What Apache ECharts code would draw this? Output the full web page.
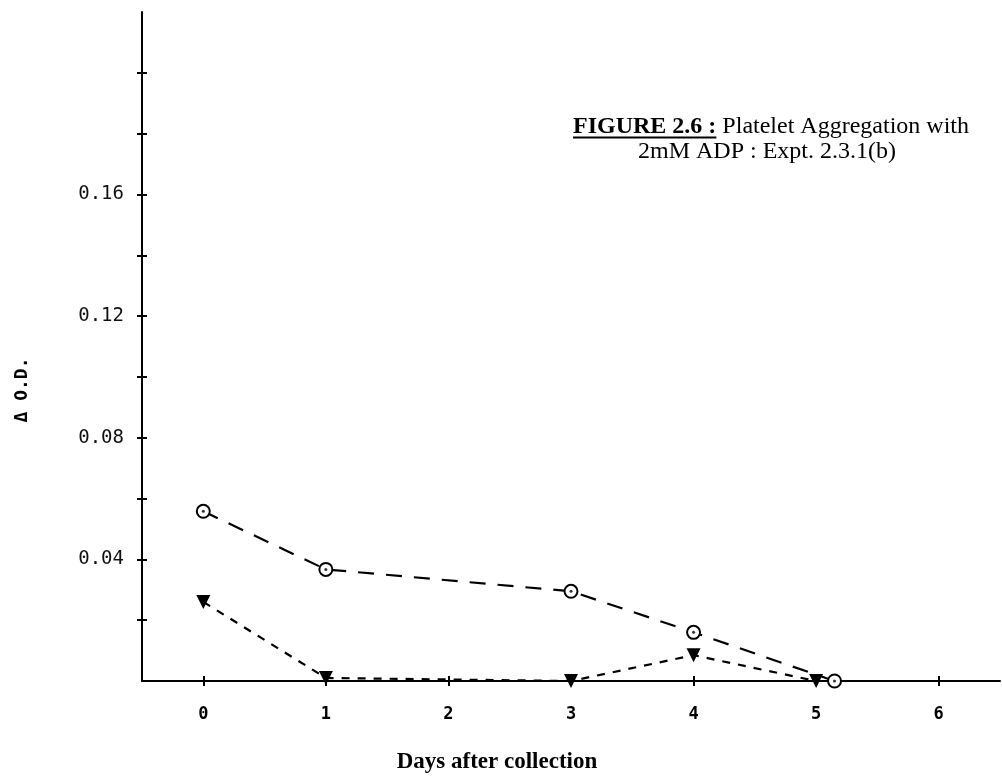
<!DOCTYPE html>
<html>
<head>
<meta charset="utf-8">
<script src="https://cdn.jsdelivr.net/npm/echarts@6/dist/echarts.min.js"></script>
<style>html,body{margin:0;padding:0;background:#fff}#c{width:1002px;height:780px}</style>
</head>
<body>
<div id="c"></div>
<script>
// ---- data ----
const circleDays = [0, 1, 3, 4, 5.15];
const circleOD   = [0.0558, 0.0367, 0.0295, 0.016, 0];
const triDays    = [0, 1, 3, 4, 5];
const triOD      = [0.026, 0.001, 0, 0.0085, 0];
const xTickValues = [0, 1, 2, 3, 4, 5, 6];
const xTickLabels = ['0', '1', '2', '3', '4', '5', '6'];
const yTickValues = [0.02, 0.04, 0.06, 0.08, 0.10, 0.12, 0.14, 0.16, 0.18, 0.20];
const yLabelValues = [0.04, 0.08, 0.12, 0.16];
const yTickLabels = ['0.04', '0.08', '0.12', '0.16'];
const titleBold = 'FIGURE 2.6 :';
const titleRest = ' Platelet Aggregation with';
const titleLine2 = '2mM ADP : Expt. 2.3.1(b)';
const xName = 'Days after collection';
const yName = '\u0394 O.D.';

const circlePts = circleDays.map((d, i) => [d, circleOD[i]]);
const triPts = triDays.map((d, i) => [d, triOD[i]]);

const chart = echarts.init(document.getElementById('c'), null, {renderer: 'canvas'});
const mono = 'DejaVu Sans Mono';
const serif = 'Liberation Serif';
const titleSize = 24;

function labelFor(v) {
  const idx = yLabelValues.findIndex(x => Math.abs(x - v) < 1e-6);
  return idx >= 0 ? yTickLabels[idx] : '';
}

// measure for underline
const cv = document.createElement('canvas').getContext('2d');
cv.font = 'bold ' + titleSize + 'px "' + serif + '"';
const wBold = cv.measureText(titleBold).width;
cv.font = titleSize + 'px "' + serif + '"';
const wRest = cv.measureText(titleRest).width;
const titleCx = 771;
const line1Left = titleCx - (wBold + wRest) / 2;

const baseAxisX = {type: 'value', min: -0.5, max: 6.5, splitLine: {show: false}};
const baseAxisY = {type: 'value', min: 0, max: 0.22, splitLine: {show: false}};
const axLine = {show: true, onZero: false, lineStyle: {color: '#000', width: 2}};

chart.setOption({
  backgroundColor: '#fff',
  animation: false,
  grid: {left: 142, top: 12, width: 858, height: 669},
  xAxis: [
    Object.assign({}, baseAxisX, {
      position: 'bottom',
      axisLine: axLine,
      axisTick: {show: true, length: 5, customValues: xTickValues, lineStyle: {color: '#000', width: 2}},
      axisLabel: {show: true, customValues: xTickValues, margin: 25,
        formatter: v => { const i = xTickValues.indexOf(Math.round(v)); return i >= 0 ? xTickLabels[i] : ''; },
        color: '#000', fontFamily: mono, fontWeight: 'bold', fontSize: 17}
    }),
    Object.assign({}, baseAxisX, {
      position: 'bottom', offset: -5,
      axisLine: {show: false, onZero: false},
      axisTick: {show: true, length: 10, customValues: xTickValues, lineStyle: {color: '#000', width: 2}},
      axisLabel: {show: false}
    })
  ],
  yAxis: [
    Object.assign({}, baseAxisY, {
      position: 'left',
      axisLine: axLine,
      axisTick: {show: true, length: 5, customValues: yTickValues, lineStyle: {color: '#000', width: 2}},
      axisLabel: {show: true, customValues: yLabelValues, margin: 18, formatter: labelFor,
        color: '#111', fontFamily: mono, fontSize: 19}
    }),
    Object.assign({}, baseAxisY, {
      position: 'left', offset: -5,
      axisLine: {show: false, onZero: false},
      axisTick: {show: true, length: 10, customValues: yTickValues, lineStyle: {color: '#000', width: 2}},
      axisLabel: {show: false}
    })
  ],
  series: [
    {
      type: 'line', data: circlePts, xAxisIndex: 0, yAxisIndex: 0,
      symbol: 'emptyCircle', symbolSize: 13, clip: false,
      lineStyle: {color: '#000', width: 2.2, type: [16, 12]},
      itemStyle: {color: '#000', borderColor: '#000', borderWidth: 2.5},
      z: 3
    },
    {
      type: 'scatter', data: circlePts, xAxisIndex: 0, yAxisIndex: 0,
      symbol: 'circle', symbolSize: 3, clip: false,
      itemStyle: {color: '#000'}, z: 5
    },
    {
      type: 'line', data: triPts, xAxisIndex: 0, yAxisIndex: 0,
      symbol: 'triangle', symbolRotate: 180, symbolSize: 14, clip: false,
      lineStyle: {color: '#000', width: 2.2, type: [8, 8]},
      itemStyle: {color: '#000', borderColor: '#000', borderWidth: 0},
      z: 4
    }
  ],
  graphic: [
    {
      type: 'text', x: line1Left, y: 127,
      style: {
        text: '{b|' + titleBold + '}{r|' + titleRest + '}',
        textVerticalAlign: 'middle',
        rich: {
          b: {fontFamily: serif, fontWeight: 'bold', fontSize: titleSize, fill: '#000'},
          r: {fontFamily: serif, fontSize: titleSize, fill: '#000'}
        }
      }
    },
    {
      type: 'line', shape: {x1: line1Left, y1: 137.5, x2: line1Left + wBold, y2: 137.5},
      style: {stroke: '#000', lineWidth: 2}
    },
    {
      type: 'text', x: titleCx - 4, y: 152,
      style: {text: titleLine2, fontFamily: serif, fontSize: titleSize, fill: '#000', textAlign: 'center', textVerticalAlign: 'middle'}
    },
    {
      type: 'text', x: 497, y: 762,
      style: {text: xName, fontFamily: serif, fontWeight: 'bold', fontSize: 23, fill: '#000', textAlign: 'center', textVerticalAlign: 'middle'}
    },
    {
      type: 'text', x: 22, y: 390, rotation: Math.PI / 2,
      style: {text: yName, fontFamily: mono, fontWeight: 'bold', fontSize: 18, fill: '#000', textAlign: 'center', textVerticalAlign: 'middle'}
    }
  ]
});
</script>
</body>
</html>
